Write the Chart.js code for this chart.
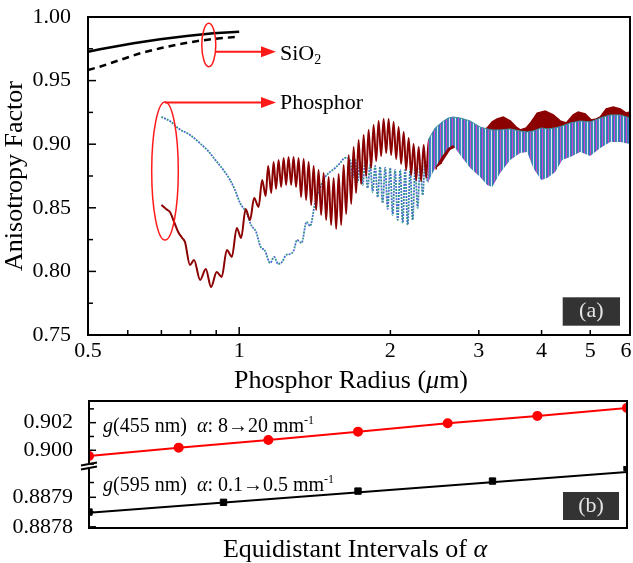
<!DOCTYPE html>
<html><head><meta charset="utf-8">
<script src="https://cdn.jsdelivr.net/npm/chart.js@4.4.1/dist/chart.umd.min.js"></script>
<style>
html,body{margin:0;padding:0;background:#fff;}
#wrap{position:relative;width:633px;height:563px;overflow:hidden;background:#fff;}
#c1{position:absolute;left:0;top:0;}
#c2{position:absolute;left:0;top:395px;}
</style></head><body>
<div id="wrap"><canvas id="c1" width="633" height="395"></canvas><canvas id="c2" width="633" height="168"></canvas></div>
<script>
const FONT = "'Liberation Serif','Times New Roman',serif";

// ---------- Panel (a) data ----------
const xTickVals = [0.5, 1, 2, 3, 4, 5, 6];
const xMajorTicks = [1];
const xMinorTicks = [0.6, 0.7, 0.8, 0.9, 2, 3, 4, 5];
const yTickVals = [0.75, 0.80, 0.85, 0.90, 0.95, 1.00];
const yMinorTicks = [0.775, 0.825, 0.875, 0.925, 0.975];

const sio2SolidR = [0.500, 0.528, 0.616, 0.696, 0.786, 0.888, 1.000];
const sio2SolidG = [0.9727, 0.9746, 0.9793, 0.9825, 0.9851, 0.9872, 0.9884];
const sio2DashR = [0.500, 0.528, 0.579, 0.635, 0.696, 0.763, 0.836, 0.916, 1.000];
const sio2DashG = [0.9583, 0.9609, 0.9662, 0.9715, 0.9754, 0.9788, 0.9814, 0.9833, 0.9845];

const phosRedR = [0.700,0.715,0.728,0.742,0.756,0.770,0.780,0.798,0.813,0.836,0.858,0.879,0.902,0.923,0.945,0.967,0.989,1.009,1.030,1.051,1.071,1.093,1.111,1.129,1.142,1.158,1.171,1.184,1.198,1.212,1.226,1.240,1.254,1.269,1.283,1.298,1.313,1.328,1.344,1.359,1.375,1.391,1.407,1.423,1.439,1.456,1.473,1.490,1.507,1.524,1.542,1.560,1.578,1.596,1.614,1.633,1.652,1.671,1.690,1.709,1.729,1.749,1.769,1.790,1.810,1.831,1.852,1.874,1.895,1.917,1.939,1.962,1.984,2.007,2.030,2.054,2.077,2.101,2.126,2.150,2.175,2.200,2.225,2.251,2.277,2.303,2.330,2.357,2.384,2.411,2.439,2.467,2.496,2.524];
const phosRedG = [0.8522,0.8491,0.8467,0.8389,0.8310,0.8263,0.8231,0.8051,0.8090,0.7933,0.8019,0.7878,0.7996,0.7956,0.8169,0.8114,0.8342,0.8263,0.8491,0.8404,0.8577,0.8507,0.8719,0.8593,0.8829,0.8617,0.8860,0.8648,0.8876,0.8664,0.8892,0.8680,0.8900,0.8680,0.8900,0.8664,0.8892,0.8585,0.8884,0.8562,0.8860,0.8522,0.8829,0.8483,0.8797,0.8444,0.8774,0.8404,0.8742,0.8365,0.8735,0.8334,0.8766,0.8365,0.8837,0.8452,0.8915,0.8530,0.8978,0.8617,0.9033,0.8687,0.9073,0.8750,0.9112,0.8813,0.9151,0.8868,0.9183,0.8907,0.9198,0.8931,0.9198,0.8915,0.9175,0.8884,0.9135,0.8845,0.9096,0.8797,0.9049,0.8758,0.9002,0.8719,0.8978,0.8711,0.8994,0.8735,0.9033,0.8766,0.9073,0.8805,0.9104,0.8845];

const redBandR = [2.467,2.524,2.631,2.754,2.884,3.019,3.117,3.190,3.264,3.355,3.464,3.561,3.627,3.728,3.815,3.921,4.067,4.220,4.357,4.479,4.625,4.732,4.887,5.023,5.139,5.235,5.381,5.556,5.738,5.898,6.000];
const redBandHi = [0.9104,0.9120,0.9112,0.9088,0.9080,0.9096,0.9128,0.9175,0.9198,0.9214,0.9183,0.9135,0.9112,0.9128,0.9175,0.9245,0.9261,0.9230,0.9183,0.9167,0.9230,0.9253,0.9238,0.9190,0.9198,0.9214,0.9277,0.9293,0.9277,0.9245,0.9253];
const redBandLo = [0.8813,0.8845,0.8955,0.8994,0.8970,0.8955,0.8970,0.8994,0.9010,0.9017,0.9017,0.8994,0.8994,0.8994,0.9010,0.9033,0.9033,0.9033,0.9033,0.9033,0.9057,0.9073,0.9088,0.9073,0.9073,0.9088,0.9112,0.9128,0.9128,0.9112,0.9112];

const phosTealR = [0.700,0.732,0.756,0.798,0.836,0.867,0.902,0.933,0.959,0.981,1.004,1.035,1.056,1.081,1.101,1.126,1.152,1.174,1.195,1.217,1.240,1.263,1.283,1.304,1.331,1.362,1.384,1.416,1.449,1.483,1.517,1.552,1.588,1.625,1.663,1.682,1.702,1.721,1.741,1.761,1.781,1.802,1.823,1.844,1.865,1.887,1.908,1.930,1.953,1.975,1.998,2.021,2.044,2.068,2.092,2.116,2.140,2.165,2.190,2.215,2.241,2.266,2.293,2.319,2.346,2.373,2.400];
const phosTealG = [0.9216,0.9175,0.9125,0.9073,0.9007,0.8947,0.8863,0.8790,0.8719,0.8640,0.8538,0.8459,0.8365,0.8310,0.8200,0.8161,0.8066,0.8114,0.8059,0.8074,0.8129,0.8137,0.8161,0.8247,0.8224,0.8389,0.8357,0.8538,0.8656,0.8742,0.8782,0.8813,0.8852,0.8892,0.8876,0.8735,0.8876,0.8703,0.8860,0.8680,0.8852,0.8656,0.8837,0.8624,0.8829,0.8585,0.8821,0.8538,0.8813,0.8491,0.8813,0.8444,0.8797,0.8404,0.8797,0.8381,0.8797,0.8365,0.8797,0.8404,0.8813,0.8499,0.8837,0.8601,0.8876,0.8703,0.8955];

const mixBandR = [2.378,2.456,2.536,2.607,2.667,2.754,2.884,3.019,3.117,3.190,3.309,3.464,3.627,3.745,3.850,3.994,4.105,4.258,4.397,4.562,4.776,5.000,5.235,5.480,5.738,6.000];
const mixBandHi = [0.9033,0.9128,0.9175,0.9206,0.9214,0.9206,0.9183,0.9135,0.9120,0.9112,0.9112,0.9120,0.9104,0.9096,0.9104,0.9128,0.9120,0.9128,0.9143,0.9167,0.9183,0.9175,0.9206,0.9230,0.9230,0.9206];
const mixBandLo = [0.8703,0.8813,0.8907,0.8970,0.8994,0.8915,0.8813,0.8742,0.8680,0.8664,0.8774,0.8876,0.8931,0.8939,0.8813,0.8719,0.8735,0.8782,0.8876,0.8900,0.8939,0.8907,0.8970,0.9017,0.9017,0.9002];

// ---------- Panel (b) data ----------
const g455X = [0, 1, 2, 3, 4, 5, 6];
const g455Y = [0.89959, 0.90019, 0.90075, 0.90135, 0.90196, 0.90249, 0.90307];
const g595X = [0, 1.5, 3, 4.5, 6];
const g595Y = [0.887850, 0.887883, 0.887921, 0.887955, 0.888001];
const g595FitX = [0, 6];
const g595FitY = [0.887848, 0.887986];
const yUpTicks = [0.900, 0.902];
const yUpMinor = [0.899, 0.901, 0.903];
const yLoTicks = [0.8878, 0.8879];
const yLoMinor = [0.88785, 0.88795];

const zip = (xs, ys) => xs.map((x, i) => ({x: x, y: ys[i]}));
const noPad = s => { s.paddingTop = 0; s.paddingBottom = 0; s.paddingLeft = 0; s.paddingRight = 0; };

function drawRuns(ctx, runs, x, y, align) {
  let total = 0;
  runs.forEach(r => { ctx.font = r.f; total += ctx.measureText(r.t).width; });
  let cx = align === 'center' ? x - total / 2 : x;
  ctx.textBaseline = 'alphabetic'; ctx.textAlign = 'left';
  runs.forEach(r => { ctx.font = r.f; ctx.fillText(r.t, cx, y + (r.dy || 0)); cx += ctx.measureText(r.t).width; });
}
function seg(ctx, x1, y1, x2, y2) { ctx.beginPath(); ctx.moveTo(x1, y1); ctx.lineTo(x2, y2); ctx.stroke(); }
function arrowHead(ctx, xTip, y) { ctx.beginPath(); ctx.moveTo(xTip, y); ctx.lineTo(xTip - 15, y - 5.5); ctx.lineTo(xTip - 15, y + 5.5); ctx.closePath(); ctx.fill(); }

function stripePattern() {
  const c = document.createElement('canvas'); c.width = 6; c.height = 4;
  const g = c.getContext('2d');
  ['#2f8f9a', '#5058d6', '#d048d0', '#2f8f9a', '#4a80d0', '#dfe9ee'].forEach((col, i) => { g.fillStyle = col; g.fillRect(i, 0, 1, 4); });
  return document.getElementById('c1').getContext('2d').createPattern(c, 'repeat');
}

const topDecor = {
  id: 'topDecor',
  afterDraw(chart) {
    const {ctx, chartArea: a, scales: {x, y}} = chart;
    ctx.save();
    ctx.strokeStyle = '#000'; ctx.lineWidth = 1.5;
    xMajorTicks.forEach(v => { const p = x.getPixelForValue(v); seg(ctx, p, a.bottom, p, a.bottom - 8); });
    xMinorTicks.forEach(v => { const p = x.getPixelForValue(v); seg(ctx, p, a.bottom, p, a.bottom - 5); });
    yTickVals.forEach(v => { const p = y.getPixelForValue(v); seg(ctx, a.left, p, a.left + 8, p); });
    yMinorTicks.forEach(v => { const p = y.getPixelForValue(v); seg(ctx, a.left, p, a.left + 5, p); });
    ctx.lineWidth = 2;
    ctx.strokeRect(a.left, a.top, a.right - a.left, a.bottom - a.top);
    // x tick labels
    ctx.fillStyle = '#000'; ctx.font = `22px ${FONT}`; ctx.textAlign = 'center'; ctx.textBaseline = 'middle';
    xTickVals.forEach(v => { const p = Math.min(x.getPixelForValue(v), chart.width - 7); ctx.fillText(String(v), p, a.bottom + 16); });
    // annotations
    ctx.strokeStyle = '#ff1a1a'; ctx.fillStyle = '#ff1a1a'; ctx.lineWidth = 1.5;
    ctx.beginPath(); ctx.ellipse(208.8, 45, 7, 21.7, 0, 0, Math.PI * 2); ctx.stroke();
    ctx.beginPath(); ctx.ellipse(165, 171, 13.3, 69, 0, 0, Math.PI * 2); ctx.stroke();
    ctx.lineWidth = 2;
    seg(ctx, 215.5, 51.7, 262, 51.7); arrowHead(ctx, 276, 51.7);
    seg(ctx, 165, 102.5, 262, 102.5); arrowHead(ctx, 276, 102.5);
    ctx.fillStyle = '#000';
    drawRuns(ctx, [{t: 'SiO', f: `22px ${FONT}`}, {t: '2', f: `14px ${FONT}`, dy: 4}], 280, 60, 'left');
    drawRuns(ctx, [{t: 'Phosphor', f: `22px ${FONT}`}], 280, 109, 'left');
    // (a) box
    ctx.fillStyle = '#333';
    ctx.fillRect(562.7, 297.3, 57.3, 28.4);
    ctx.fillStyle = '#e6e6e6'; ctx.font = `22px ${FONT}`; ctx.textAlign = 'center'; ctx.textBaseline = 'middle';
    ctx.fillText('(a)', 591.3, 311.5);
    // x title
    ctx.fillStyle = '#000';
    drawRuns(ctx, [{t: 'Phosphor Radius (', f: `26px ${FONT}`}, {t: 'μ', f: `italic 26px ${FONT}`}, {t: 'm)', f: `26px ${FONT}`}], 351, 388, 'center');
    ctx.restore();
  }
};

const pattern = stripePattern();

new Chart(document.getElementById('c1'), {
  type: 'line',
  data: {
    datasets: [
      {data: zip(sio2SolidR, sio2SolidG), borderColor: '#000', borderWidth: 2.5, pointRadius: 0, order: 0},
      {data: zip(sio2DashR, sio2DashG), borderColor: '#000', borderWidth: 2.5, borderDash: [7, 5], pointRadius: 0, order: 0},
      {data: zip(phosTealR, phosTealG), borderColor: '#2f8f8f', borderWidth: 1.8, borderDash: [2, 4], pointRadius: 0, order: 5, cubicInterpolationMode: 'monotone'},
      {data: zip(phosTealR, phosTealG), borderColor: '#4a6ad0', borderWidth: 1.8, borderDash: [2, 4], borderDashOffset: 3, pointRadius: 0, order: 6, cubicInterpolationMode: 'monotone'},
      {data: zip(phosRedR, phosRedG), borderColor: '#8b0000', borderWidth: 2, pointRadius: 0, order: 3, cubicInterpolationMode: 'monotone'},
      {data: zip(redBandR, redBandLo), borderWidth: 0, borderColor: 'rgba(0,0,0,0)', pointRadius: 0, order: 2},
      {data: zip(redBandR, redBandHi), borderColor: '#8b0000', borderWidth: 1.5, backgroundColor: '#8b0000', fill: '-1', pointRadius: 0, order: 2},
      {data: zip(mixBandR, mixBandLo), borderWidth: 0, borderColor: 'rgba(0,0,0,0)', pointRadius: 0, order: 1},
      {data: zip(mixBandR, mixBandHi), borderColor: '#3d8f9f', borderWidth: 1, backgroundColor: pattern, fill: '-1', pointRadius: 0, order: 1}
    ]
  },
  options: {
    responsive: false, animation: false, devicePixelRatio: 1,
    layout: {padding: {top: 17, right: 3, left: 0, bottom: 0}},
    plugins: {legend: {display: false}, tooltip: {enabled: false}},
    elements: {line: {tension: 0}},
    scales: {
      x: {
        type: 'logarithmic', min: 0.5, max: 6,
        grid: {display: false}, border: {display: false},
        afterBuildTicks: s => { s.ticks = xTickVals.map(v => ({value: v})); },
        ticks: {display: false},
        afterFit: s => { s.height = 60; noPad(s); }
      },
      y: {
        min: 0.75, max: 1.0,
        grid: {display: false}, border: {display: false},
        afterBuildTicks: s => { s.ticks = yTickVals.map(v => ({value: v})); },
        ticks: {callback: v => Number(v).toFixed(2), font: {family: FONT, size: 22}, color: '#000', padding: 9},
        title: {display: true, text: 'Anisotropy Factor', font: {family: FONT, size: 26}, color: '#000', padding: {top: 0, bottom: 0}},
        afterFit: s => { s.width = 88; noPad(s); }
      }
    }
  },
  plugins: [topDecor]
});

const botDecor = {
  id: 'botDecor',
  afterDraw(chart) {
    const {ctx, chartArea: a, scales: {yU, yL}} = chart;
    ctx.save();
    ctx.strokeStyle = '#000'; ctx.lineWidth = 1.5;
    yUpTicks.forEach(v => { const p = yU.getPixelForValue(v); seg(ctx, a.left, p, a.left + 7, p); });
    yUpMinor.forEach(v => { const p = yU.getPixelForValue(v); seg(ctx, a.left, p, a.left + 5, p); });
    yLoTicks.forEach(v => { const p = yL.getPixelForValue(v); seg(ctx, a.left, p, a.left + 7, p); });
    yLoMinor.forEach(v => { const p = yL.getPixelForValue(v); seg(ctx, a.left, p, a.left + 5, p); });
    ctx.lineWidth = 2;
    ctx.strokeRect(a.left, a.top, a.right - a.left, a.bottom - a.top);
    // axis break
    const b = yU.bottom;
    ctx.fillStyle = '#fff'; ctx.fillRect(a.left - 2, b - 1.5, 4, 3);
    ctx.lineWidth = 2.2;
    seg(ctx, a.left - 8, b - 0.5, a.left + 8, b - 3.5);
    seg(ctx, a.left - 8, b + 3.5, a.left + 8, b + 0.5);
    // labels
    ctx.fillStyle = '#000';
    const f = `20px ${FONT}`, fi = `italic 20px ${FONT}`, fs = `12px ${FONT}`;
    drawRuns(ctx, [{t: 'g', f: fi}, {t: '(455 nm)  ', f: f}, {t: 'α', f: fi}, {t: ': 8→20 mm', f: f}, {t: '-1', f: fs, dy: -8}], 103, 37, 'left');
    drawRuns(ctx, [{t: 'g', f: fi}, {t: '(595 nm)  ', f: f}, {t: 'α', f: fi}, {t: ': 0.1→0.5 mm', f: f}, {t: '-1', f: fs, dy: -8}], 103, 96, 'left');
    // (b) box
    ctx.fillStyle = '#333';
    ctx.fillRect(563, 97, 56, 28);
    ctx.fillStyle = '#e6e6e6'; ctx.font = `22px ${FONT}`; ctx.textAlign = 'center'; ctx.textBaseline = 'middle';
    ctx.fillText('(b)', 591, 111);
    // x title
    ctx.fillStyle = '#000';
    drawRuns(ctx, [{t: 'Equidistant Intervals of ', f: `26px ${FONT}`}, {t: 'α', f: `italic 26px ${FONT}`}], 355, 162, 'center');
    ctx.restore();
  }
};

new Chart(document.getElementById('c2'), {
  type: 'line',
  data: {
    datasets: [
      {data: zip(g455X, g455Y), yAxisID: 'yU', borderColor: '#ff0000', backgroundColor: '#ff0000', borderWidth: 2, pointRadius: 4, pointStyle: 'circle', pointBackgroundColor: '#ff0000', pointBorderColor: '#ff0000'},
      {data: zip(g595FitX, g595FitY), yAxisID: 'yL', borderColor: '#000', borderWidth: 2, pointRadius: 0},
      {data: zip(g595X, g595Y), yAxisID: 'yL', showLine: false, pointStyle: 'rect', pointRadius: 4.5, pointBackgroundColor: '#000', pointBorderColor: '#000', borderColor: '#000'}
    ]
  },
  options: {
    responsive: false, animation: false, devicePixelRatio: 1,
    layout: {padding: {top: 6, right: 3, left: 0, bottom: 0}},
    plugins: {legend: {display: false}, tooltip: {enabled: false}},
    scales: {
      x: {
        type: 'linear', min: 0, max: 6,
        grid: {display: false}, border: {display: false},
        ticks: {display: false},
        afterFit: s => { s.height = 35; noPad(s); }
      },
      yL: {
        type: 'linear', position: 'left', stack: 'g', stackWeight: 62,
        min: 0.887796, max: 0.888006,
        grid: {display: false}, border: {display: false},
        afterBuildTicks: s => { s.ticks = yLoTicks.map(v => ({value: v})); },
        ticks: {callback: v => Number(v).toFixed(4), font: {family: FONT, size: 22}, color: '#000', padding: 8},
        afterFit: s => { s.width = 89; noPad(s); }
      },
      yU: {
        type: 'linear', position: 'left', stack: 'g', stackWeight: 65,
        min: 0.89886, max: 0.90357,
        grid: {display: false}, border: {display: false},
        afterBuildTicks: s => { s.ticks = yUpTicks.map(v => ({value: v})); },
        ticks: {callback: v => Number(v).toFixed(3), font: {family: FONT, size: 22}, color: '#000', padding: 8},
        afterFit: s => { s.width = 89; noPad(s); }
      }
    }
  },
  plugins: [botDecor]
});
</script>
</body></html>
